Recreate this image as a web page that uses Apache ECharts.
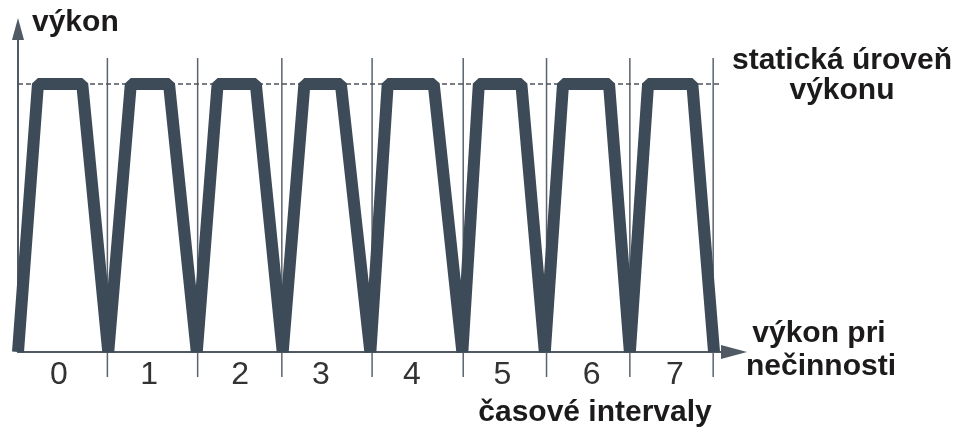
<!DOCTYPE html>
<html>
<head>
<meta charset="utf-8">
<script src="https://cdn.jsdelivr.net/npm/echarts@6/dist/echarts.min.js"></script>
<style>
    html, body { margin: 0; padding: 0; background: #fff; }
    #chart { width: 956px; height: 429px; }
</style>
</head>
<body>
<div id="chart"></div>
<script>
// Průběh výkonu v čase (jednotky osy x: čas, osa y: výkon v %)
const powerTime = [0, 23, 74, 104, 130, 174, 206, 230, 274, 305, 330, 372, 406,
    426, 479, 512, 531, 580, 607, 628, 681, 705, 726, 777, 802];
const powerLevel = [0, 100, 100, 0, 100, 100, 0, 100, 100, 0, 100, 100, 0,
    100, 100, 0, 100, 100, 0, 100, 100, 0, 100, 100, 0];

// hranice časových intervalů
const intervalBounds = [103, 207, 304, 408, 513, 609, 705, 801];
const boundTop = 109.7;
const boundBottom = -9.3;

// popisky intervalů a jejich poloha
const tickLabels = ['0', '1', '2', '3', '4', '5', '6', '7'];
const tickPos = [47, 151, 256, 349, 454, 558, 661, 757];

// statická úroveň výkonu
const staticLevel = 100;
const staticEnd = 811;

const xMax = 825;
const yMax = 120.5;

const chart = echarts.init(document.getElementById('chart'), null, { renderer: 'canvas' });

const boundSeries = intervalBounds.map(function (x) {
    return {
        type: 'line',
        data: [[x, boundBottom], [x, boundTop]],
        symbol: 'none',
        clip: false,
        silent: true,
        z: 1,
        lineStyle: { color: '#5b646e', width: 1.5 }
    };
});

const textFont = 'bold 30px "Liberation Sans"';

const option = {
    animation: false,
    grid: {
        left: 18,
        top: 29,
        width: 716,
        height: 323,
        containLabel: false,
        outerBoundsMode: 'none'
    },
    xAxis: {
        type: 'value',
        min: 0,
        max: xMax,
        axisLine: {
            show: true,
            symbol: ['none', 'triangle'],
            symbolSize: [14, 26],
            lineStyle: { color: '#4f5a65', width: 2 }
        },
        axisTick: { show: false },
        splitLine: { show: false },
        axisLabel: {
            customValues: tickPos,
            margin: 7,
            fontFamily: 'Liberation Sans',
            fontSize: 32,
            color: '#333333',
            formatter: function (v) {
                let best = 0;
                tickPos.forEach(function (p, i) {
                    if (Math.abs(p - v) < Math.abs(tickPos[best] - v)) best = i;
                });
                return tickLabels[best];
            }
        }
    },
    yAxis: {
        type: 'value',
        min: 0,
        max: yMax,
        axisLine: {
            show: true,
            symbol: ['none', 'triangle'],
            symbolSize: [12, 22],
            lineStyle: { color: '#4f5a65', width: 2 }
        },
        axisTick: { show: false },
        splitLine: { show: false },
        axisLabel: { show: false }
    },
    series: boundSeries.concat([
        {
            type: 'line',
            data: [[0, staticLevel], [staticEnd, staticLevel]],
            symbol: 'none',
            silent: true,
            z: 1,
            lineStyle: { color: '#4d545b', width: 1.5, type: [5, 3] }
        },
        {
            type: 'line',
            data: powerTime.map(function (t, i) { return [t, powerLevel[i]]; }),
            symbol: 'none',
            clip: false,
            z: 3,
            lineStyle: { color: '#3d4b58', width: 12, join: 'bevel', cap: 'butt' }
        }
    ]),
    graphic: [
        { type: 'text', x: 32, y: 23, style: { text: 'výkon', font: textFont, fill: '#1c1a1a', textAlign: 'left', textVerticalAlign: 'middle' } },
        { type: 'text', x: 842, y: 61, style: { text: 'statická úroveň', font: textFont, fill: '#1c1a1a', textAlign: 'center', textVerticalAlign: 'middle' } },
        { type: 'text', x: 842, y: 91, style: { text: 'výkonu', font: textFont, fill: '#1c1a1a', textAlign: 'center', textVerticalAlign: 'middle' } },
        { type: 'text', x: 819, y: 334, style: { text: 'výkon pri', font: textFont, fill: '#1c1a1a', textAlign: 'center', textVerticalAlign: 'middle' } },
        { type: 'text', x: 821, y: 367, style: { text: 'nečinnosti', font: textFont, fill: '#1c1a1a', textAlign: 'center', textVerticalAlign: 'middle' } },
        { type: 'text', x: 595, y: 413, style: { text: 'časové intervaly', font: textFont, fill: '#1c1a1a', textAlign: 'center', textVerticalAlign: 'middle' } }
    ]
};

chart.setOption(option);
window.addEventListener('resize', chart.resize);
</script>
</body>
</html>
